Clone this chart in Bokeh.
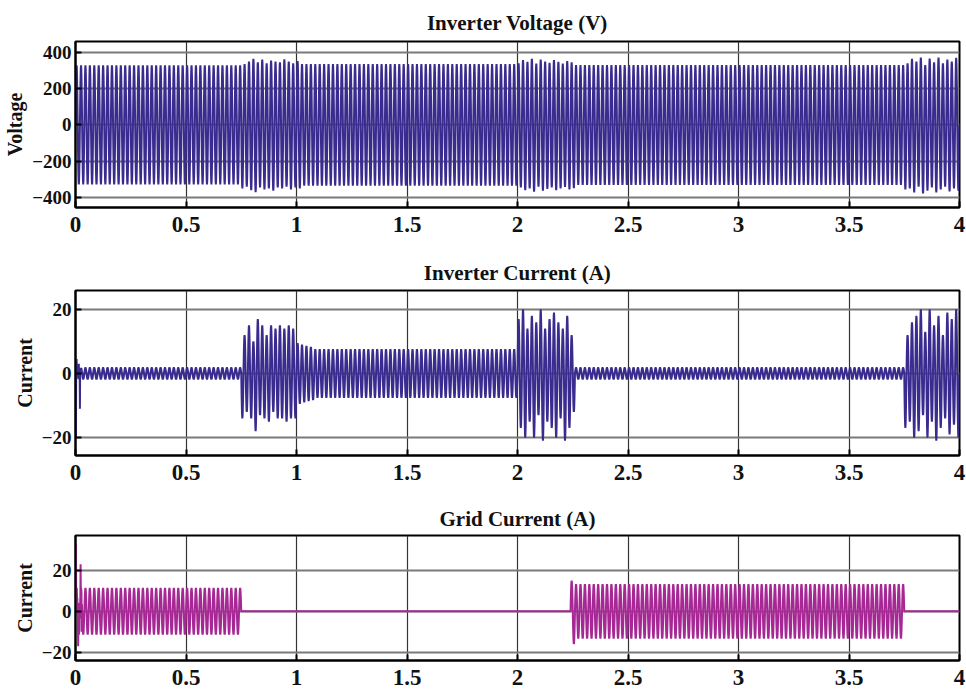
import numpy as np
from bokeh.plotting import figure
from bokeh.layouts import column
from bokeh.models import Range1d, FixedTicker
from bokeh.embed import file_html
from bokeh.resources import INLINE

# ---------------- data ----------------
FREQ = 50.0              # Hz (grid frequency)
SAMPLES_PER_CYCLE = 20
T_END = 4.0

x_ticks = [0, 0.5, 1, 1.5, 2, 2.5, 3, 3.5, 4]
x_tick_labels = ["0", "0.5", "1", "1.5", "2", "2.5", "3", "3.5", "4"]

# Inverter voltage: segment start/end (s) and peak amplitude (V)
v_seg_start = [0.00, 0.75, 1.00, 2.00, 2.25, 3.75]
v_seg_end = [0.75, 1.00, 2.00, 2.25, 3.75, 4.00]
v_seg_amp = [328, 350, 335, 345, 330, 355]
# per-cycle peaks during disturbed intervals
v_burst1_start = 0.75
v_burst1_pos = [335, 350, 365, 345, 360, 340, 355, 350, 345, 362, 350, 340, 352]
v_burst1_neg = [-340, -360, -370, -345, -355, -350, -362, -345, -350, -340, -355, -345, -350]
v_burst2_start = 2.00
v_burst2_pos = [340, 358, 348, 365, 338, 360, 350, 342, 358, 348, 338, 352, 345]
v_burst2_neg = [-345, -360, -350, -368, -340, -362, -352, -345, -360, -350, -342, -355, -348]
v_burst3_start = 3.75
v_burst3_pos = [340, 365, 350, 372, 330, 366, 345, 372, 340, 360, 350, 370, 360]
v_burst3_neg = [-350, -372, -340, -378, -362, -345, -372, -355, -340, -366, -350, -362, -355]

# Inverter current (A)
ic_seg_start = [0.00, 0.75, 1.00, 2.00, 2.25, 3.75]
ic_seg_end = [0.75, 1.00, 2.00, 2.25, 3.75, 4.00]
ic_seg_amp = [1.8, 14.0, 7.6, 17.0, 1.8, 17.0]
ic_burst1_start = 0.75
ic_burst1_pos = [12, 15, 10, 17, 15, 12, 15, 14, 15, 14, 15, 14, 14]
ic_burst1_neg = [-12, -14, -18, -13, -14, -15, -12, -14, -14, -15, -14, -14, -14]
ic_burst2_start = 1.00
ic_burst2_pos = [9.5, 9.0, 8.6, 8.3]
ic_burst2_neg = [-9.5, -9.0, -8.6, -8.3]
ic_burst3_start = 2.00
ic_burst3_pos = [17, 20, 14, 18, 16, 20, 14, 17, 19, 16, 14, 18, 12]
ic_burst3_neg = [-17, -20, -15, -20, -13, -21, -15, -17, -20, -14, -21, -17, -12]
ic_burst4_start = 3.75
ic_burst4_pos = [12, 16, 18, 20, 13, 20, 15, 18, 12, 19, 17, 20, 18]
ic_burst4_neg = [-15, -20, -18, -13, -20, -15, -21, -17, -14, -19, -16, -20, -18]
ic_transient_t = [0.002, 0.005, 0.010, 0.015, 0.020, 0.025]
ic_transient_v = [-20.0, 4.5, 1.0, 3.0, -11.0, 1.5]

# Grid current (A)
gc_seg_start = [0.00, 0.75, 2.25, 3.75]
gc_seg_end = [0.75, 2.25, 3.75, 4.00]
gc_seg_amp = [11.4, 0.0, 13.3, 0.0]
gc_burst1_start = 2.25
gc_burst1_pos = [15.0]
gc_burst1_neg = [-16.0]
gc_transient_t = [0.002, 0.007, 0.012, 0.018, 0.023, 0.028]
gc_transient_v = [33.0, 6.0, -17.0, 4.0, 23.0, -10.0]

# ---------------- waveform assembly ----------------
N_CYC = int(round(T_END * FREQ))
t = np.arange(N_CYC * SAMPLES_PER_CYCLE + 1) / (FREQ * SAMPLES_PER_CYCLE)
phase = np.sin(2 * np.pi * FREQ * t)
cyc = np.minimum(np.floor(t * FREQ + 1e-9).astype(int), N_CYC - 1)


def build(seg_start, seg_end, seg_amp, bursts, tr_t=None, tr_v=None):
    env = np.zeros_like(t)
    for a, b, amp in zip(seg_start, seg_end, seg_amp):
        m = (t >= a - 1e-9) & (t < b - 1e-9)
        env[m] = amp
    env[-1] = seg_amp[-1]
    y = phase * env
    for start, pos, neg in bursts:
        k0 = int(round(start * FREQ))
        for i, (pp, nn) in enumerate(zip(pos, neg)):
            m = cyc == (k0 + i)
            y[m & (phase >= 0)] = phase[m & (phase >= 0)] * pp
            y[m & (phase < 0)] = phase[m & (phase < 0)] * abs(nn)
    if tr_t is not None:
        for tt, vv in zip(tr_t, tr_v):
            idx = int(round(tt * FREQ * SAMPLES_PER_CYCLE))
            y[idx] = vv
    return y


v_inv = build(v_seg_start, v_seg_end, v_seg_amp,
              [(v_burst1_start, v_burst1_pos, v_burst1_neg),
               (v_burst2_start, v_burst2_pos, v_burst2_neg),
               (v_burst3_start, v_burst3_pos, v_burst3_neg)])
i_inv = build(ic_seg_start, ic_seg_end, ic_seg_amp,
              [(ic_burst1_start, ic_burst1_pos, ic_burst1_neg),
               (ic_burst2_start, ic_burst2_pos, ic_burst2_neg),
               (ic_burst3_start, ic_burst3_pos, ic_burst3_neg),
               (ic_burst4_start, ic_burst4_pos, ic_burst4_neg)],
              ic_transient_t, ic_transient_v)
i_grid = build(gc_seg_start, gc_seg_end, gc_seg_amp,
               [(gc_burst1_start, gc_burst1_pos, gc_burst1_neg)],
               gc_transient_t, gc_transient_v)

BLUE = "#3A2B8E"
MAGENTA = "#A62894"
FONT = "Liberation Serif"


def make_fig(title, ylabel, yr, yticks, frame_h, top, bottom, y, color, standoff):
    p = figure(frame_width=884, frame_height=frame_h,
               x_range=Range1d(0, 4), y_range=Range1d(*yr),
               output_backend="svg", toolbar_location=None,
               min_border_left=75, min_border_right=7,
               min_border_top=top, min_border_bottom=bottom,
               title=title, background_fill_color="white",
               border_fill_color="white")
    p.title.align = "center"
    p.title.text_font = FONT
    p.title.text_font_style = "bold"
    p.title.text_font_size = "21px"
    p.title.text_color = "#111111"
    p.title.standoff = standoff

    p.line(t, y, line_color=color, line_width=2.0)

    p.outline_line_color = "black"
    p.outline_line_width = 2
    p.outline_line_alpha = 1

    p.xaxis.ticker = FixedTicker(ticks=x_ticks)
    p.xaxis.major_label_overrides = {float(k): v for k, v in zip(x_ticks, x_tick_labels)}
    p.yaxis.ticker = FixedTicker(ticks=yticks)
    for ax in (p.xaxis, p.yaxis):
        ax.major_label_text_font = FONT
        ax.major_label_text_font_style = "bold"
        ax.major_label_text_color = "#111111"
        ax.major_tick_out = 0
        ax.major_tick_in = 6
        ax.major_tick_line_color = "black"
        ax.major_tick_line_width = 2
        ax.minor_tick_line_color = None
        ax.axis_line_color = "black"
        ax.axis_line_width = 2
    p.xaxis.major_label_text_font_size = "23px"
    p.xaxis.major_label_standoff = 9
    p.yaxis.major_label_text_font_size = "19px"
    p.yaxis.major_label_standoff = 4
    p.yaxis.axis_label = ylabel
    p.yaxis.axis_label_text_font = FONT
    p.yaxis.axis_label_text_font_style = "bold"
    p.yaxis.axis_label_text_font_size = "20px"
    p.yaxis.axis_label_text_color = "#111111"
    p.yaxis.axis_label_standoff = 3

    p.xgrid.grid_line_color = "#333333"
    p.xgrid.grid_line_width = 1.2
    p.ygrid.grid_line_color = "#7a7a7a"
    p.ygrid.grid_line_width = 2
    return p


f1 = make_fig("Inverter Voltage (V)", "Voltage", (-455, 460),
              [-400, -200, 0, 200, 400], 166, 41, 43, v_inv, BLUE, 13)
f2 = make_fig("Inverter Current (A)", "Current", (-25.6, 25.9),
              [-20, 0, 20], 165, 40, 39, i_inv, BLUE, 12)
f3 = make_fig("Grid Current (A)", "Current", (-24, 37),
              [-20, 0, 20], 125, 41, 33, i_grid, MAGENTA, 9)

layout = column(f1, f2, f3, spacing=0)
open("out.html", "w").write(file_html(layout, INLINE))
